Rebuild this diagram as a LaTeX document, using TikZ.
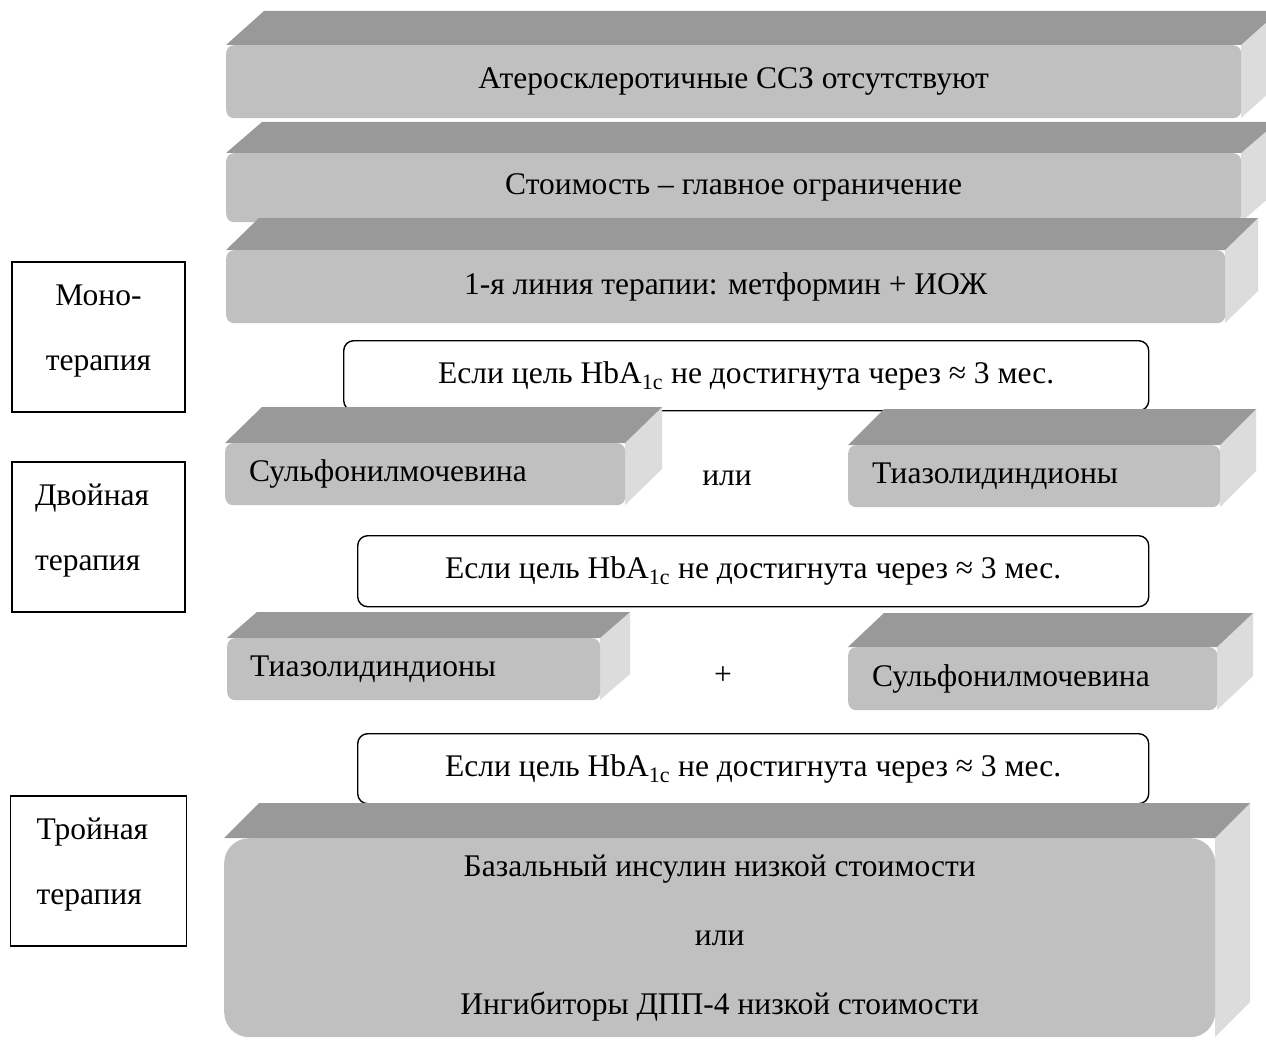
\documentclass[tikz,border=0pt]{standalone}
\usepackage{fontspec}
\setmainfont{Liberation Serif}
\usepackage{tikz}
\usetikzlibrary{positioning,calc}
\definecolor{slabfront}{HTML}{C0C0C0}
\definecolor{slabroof}{HTML}{999999}
\definecolor{slabflank}{HTML}{DCDCDC}
\tikzset{
  txt/.style={font=\fontsize{31.5}{37}\selectfont,text=black},
  slab/.style={rectangle,rounded corners=8pt,fill=slabfront,inner sep=0pt,
    align=center,txt},
  slabroof/.style={fill=slabroof},
  slabflank/.style={fill=slabflank},
  cond/.style={rectangle,rounded corners=10pt,draw=black,line width=1.4pt,
    fill=white,inner sep=0pt,txt},
  stagebox/.style={rectangle,draw=black,line width=1.3pt,minimum width=173pt,
    minimum height=150pt,inner sep=0pt,font=\fontsize{31.5}{65}\selectfont},
}
% name, left, right, top, bottom, depth x, depth y, options, text
\newcommand{\slab}[9]{%
  \fill[slabflank] (#3,#4) -- ++(#6,-#7) -- (#3+#6,#5-#7) -- (#3,#5) -- cycle;
  \fill[slabroof] (#2,#4) -- ++(#6,-#7) -- (#3+#6,#4-#7) -- (#3,#4) -- cycle;
  \node[slab,anchor=north west,minimum width=#3-#2,minimum height=#5-#4,#8]
    (#1) at (#2,#4) {#9};
}
\newcommand{\lowstrut}{\rule[-19pt]{0pt}{0pt}}

\begin{document}
\begin{tikzpicture}[x=1pt,y=-1pt]
  \useasboundingbox (0,0) rectangle (1266,1046);
  \clip (0,0) rectangle (1266,1046);
  \fill[white] (0,0) rectangle (1266,1046);

  % top of the scheme
  \slab{noascvd}{226}{1241}{45}{118}{38}{34}{}{Атеросклеротичные ССЗ отсутствуют}
  \slab{cost}{226}{1241}{153}{222}{36}{31}{}{Стоимость – главное ограничение}
  \slab{first}{226}{1225}{250}{323}{33}{32}{}{1-я линия терапии: метформин + ИОЖ}

  % double therapy
  \node[cond,minimum width=805,minimum height=70,anchor=north west] (goal1) at (343,340)
    {Если цель HbA\textsubscript{1c} не достигнута через ≈ 3 мес.};
  \slab{su1}{225}{625}{443}{505}{37}{36}{align=left,inner xsep=24pt,text width=352pt}{Сульфонилмочевина}
  \slab{tzd1}{848}{1220}{445}{507}{36}{36}{align=left,inner xsep=24pt,text width=324pt}{Тиазолидиндионы}
  \node[txt] (or1) at (727,478) {или};

  % triple therapy
  \node[cond,minimum width=791,minimum height=71,anchor=north west] (goal2) at (357,535)
    {Если цель HbA\textsubscript{1c} не достигнута через ≈ 3 мес.};
  \slab{tzd2}{227}{600}{638}{700}{30}{26}{align=left,inner xsep=23pt,text width=327pt}{Тиазолидиндионы}
  \slab{su2}{848}{1217}{647}{710}{36}{34}{align=left,inner xsep=24pt,text width=321pt}{Сульфонилмочевина}
  \node[txt] (plus) at (723,676) {+};

  % insulin step
  \node[cond,minimum width=791,minimum height=70,anchor=north west] (goal3) at (357,733)
    {Если цель HbA\textsubscript{1c} не достигнута через ≈ 3 мес.};
  \slab{insulin}{224}{1215}{838}{1037}{35}{35}{rounded corners=25pt,font=\fontsize{31.5}{69}\selectfont}
    {Базальный инсулин низкой стоимости\\или\\Ингибиторы ДПП-4 низкой стоимости}

  % stage labels
  \node[stagebox,align=center] (mono) at (98.5,337) {Моно-\\терапия\lowstrut};
  \node[stagebox,align=left,text width=127pt,inner xsep=23pt] (dual) at (98.5,537) {Двойная\\терапия\lowstrut};
  \node[stagebox,align=left,text width=124pt,inner xsep=26pt] (triple) at (98.5,871) {Тройная\\терапия\lowstrut};
\end{tikzpicture}
\end{document}
